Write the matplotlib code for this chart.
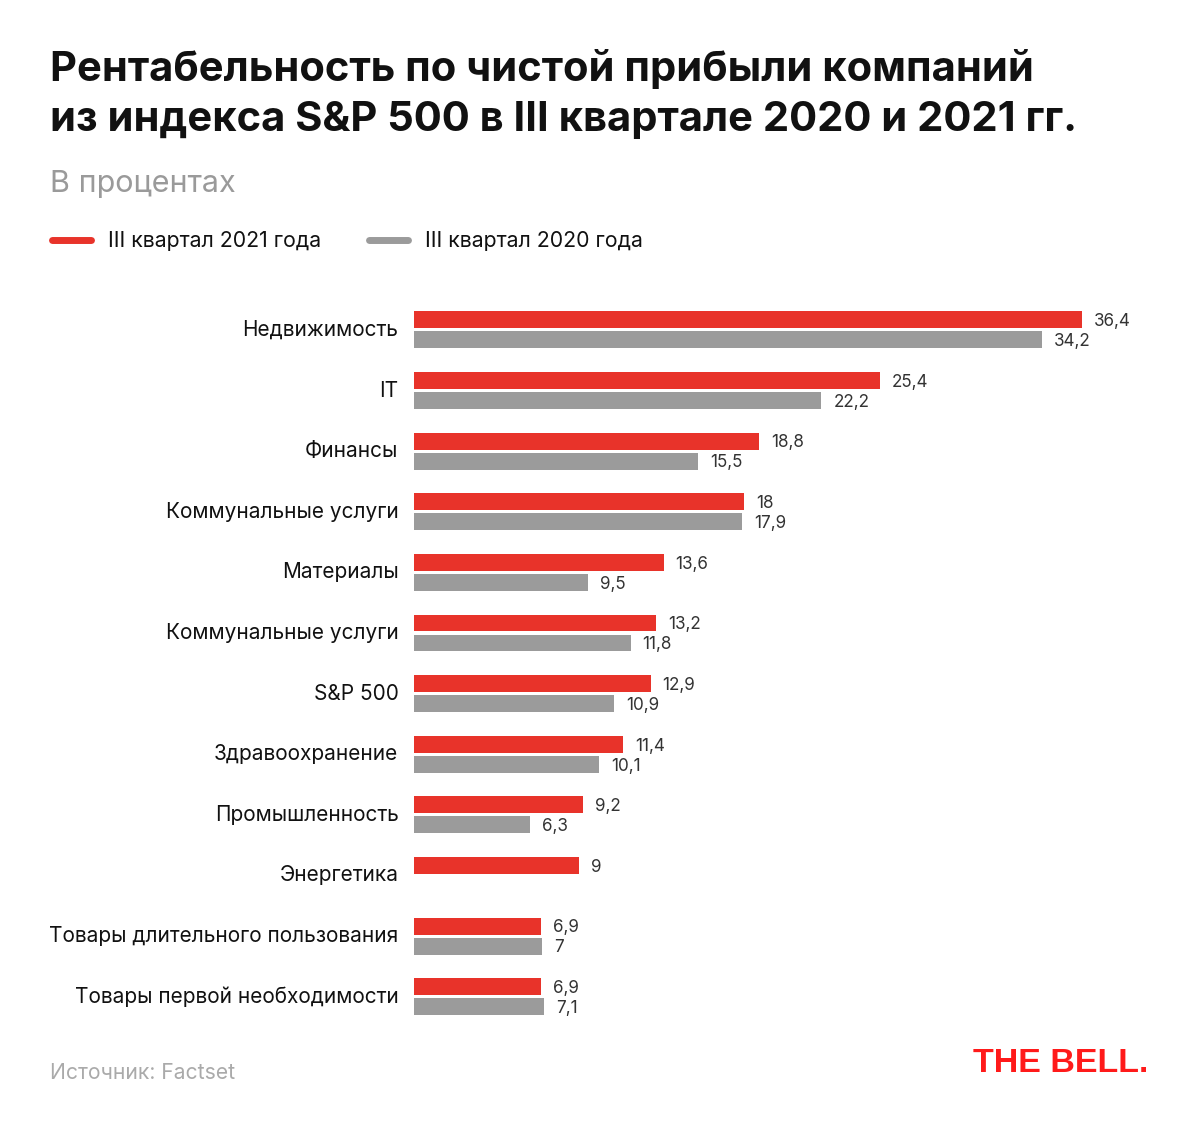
import matplotlib.pyplot as plt
import numpy as np

plt.rcParams['font.family'] = ['Inter', 'DejaVu Sans']

# data
categories = ['Недвижимость', 'IT', 'Финансы', 'Коммунальные услуги', 'Материалы',
              'Коммунальные услуги', 'S&P 500', 'Здравоохранение', 'Промышленность',
              'Энергетика', 'Товары длительного пользования', 'Товары первой необходимости']
q3_2021 = [36.4, 25.4, 18.8, 18, 13.6, 13.2, 12.9, 11.4, 9.2, 9, 6.9, 6.9]
q3_2020 = [34.2, 22.2, 15.5, 17.9, 9.5, 11.8, 10.9, 10.1, 6.3, np.nan, 7, 7.1]

red = '#e8332a'
grey = '#9b9b9b'

W, H = 1200, 1141
fig = plt.figure(figsize=(W / 100, H / 100), dpi=100)

# axes placed in pixel terms: x from 414 px, rows every ~60.6 px
ax = fig.add_axes([414 / W, 1 - 1033 / H, 734 / W, (1033 - 293.6) / H])
y = np.arange(len(categories))
off = 0.165
h = 0.28
ax.barh(y - off, q3_2021, height=h, color=red)
ax.barh(y + off, q3_2020, height=h, color=grey)
ax.set_xlim(0, 40)
ax.set_ylim(len(categories) - 0.4, -0.6)
ax.axis('off')

def fmt(v):
    s = ('%g' % v).replace('.', ',')
    return s

dy = 0.03  # nudge value labels a touch lower
for i in range(len(categories)):
    ax.text(q3_2021[i] + 0.65, y[i] - off + dy, fmt(q3_2021[i]), va='center', ha='left',
            fontsize=12.3, color='#333333')
    if not np.isnan(q3_2020[i]):
        ax.text(q3_2020[i] + 0.65, y[i] + off + dy, fmt(q3_2020[i]), va='center', ha='left',
                fontsize=12.3, color='#333333')
    ax.text(-0.85, y[i], categories[i], va='center', ha='right', fontsize=15,
            color='#111111')

# title block
fig.text(50 / W, 1 - 69 / H, 'Рентабельность по чистой прибыли компаний', fontsize=30,
         fontweight='bold', va='center', ha='left', color='#111111')
fig.text(50 / W, 1 - 120 / H, 'из индекса S&P 500 в III квартале 2020 и 2021 гг.', fontsize=30,
         fontweight='bold', va='center', ha='left', color='#111111')
fig.text(50 / W, 1 - 184 / H, 'В процентах', fontsize=22, va='center', ha='left',
         color='#9a9a9a')

# legend
fig.add_artist(plt.Line2D([52 / W, 91 / W], [1 - 240 / H] * 2, color=red, lw=5,
                          solid_capstyle='round'))
fig.text(108 / W, 1 - 241 / H, 'III квартал 2021 года', fontsize=15.3, va='center', color='#111111')
fig.add_artist(plt.Line2D([369 / W, 408 / W], [1 - 240 / H] * 2, color=grey, lw=5,
                          solid_capstyle='round'))
fig.text(425 / W, 1 - 241 / H, 'III квартал 2020 года', fontsize=15.3, va='center', color='#111111')

# footer
fig.text(50 / W, 1 - 1073 / H, 'Источник: Factset', fontsize=15.2, va='center', color='#aaaaaa')
fig.text(1148 / W, 1 - 1064 / H, 'THE BELL.', fontsize=24.5, fontweight='heavy', va='center',
         ha='right', color='#ff1a1a', family=['Liberation Sans', 'DejaVu Sans'])

plt.savefig('out.png', dpi=100)
